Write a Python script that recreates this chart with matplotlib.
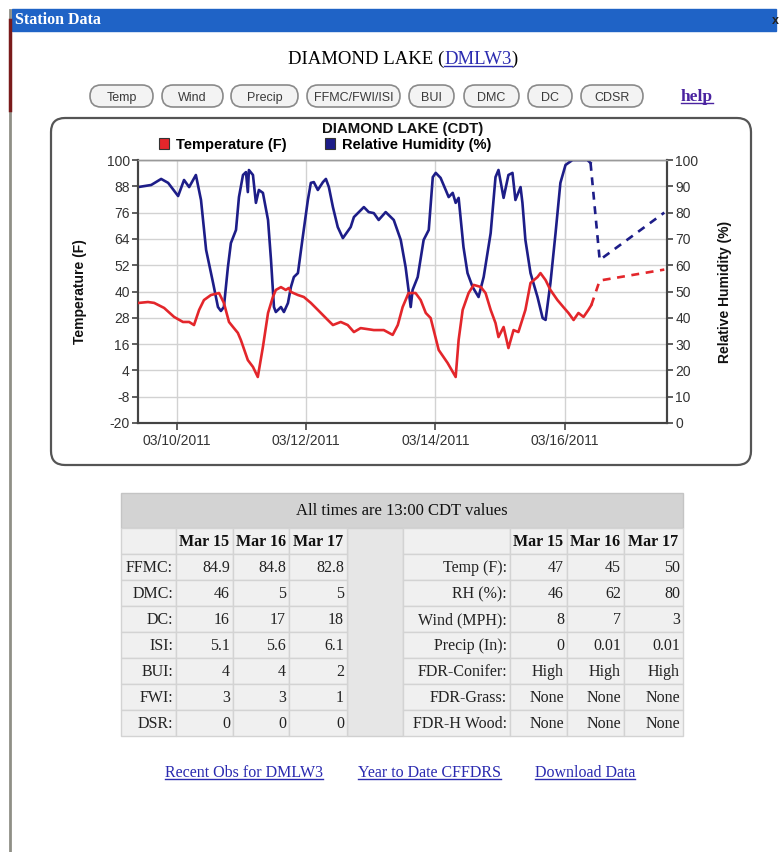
import numpy as np
import pandas as pd
import matplotlib
matplotlib.use("Agg")
import matplotlib.pyplot as plt
import matplotlib.dates as mdates
from matplotlib.patches import FancyBboxPatch, Rectangle, Patch
from matplotlib import font_manager

# ---- data (hours after 03/09/2011 00:00 CDT) ----
rh_hours = [9.5, 14.4, 18.1, 20.7, 24.4, 26.6, 28.5, 31.0, 32.9, 34.8, 37.4, 39.2, 40.3, 41.4,
            42.9, 44.0, 45.9, 47.0, 48.5, 49.6, 50.3, 50.7, 52.2, 53.3, 54.4, 55.9, 57.8, 58.9,
            60.0, 60.7, 62.6, 63.7, 65.2, 66.3, 67.4, 68.9, 70.7, 72.6, 73.7, 74.8, 76.3, 78.2,
            79.3, 80.4, 81.9, 83.7, 85.6, 88.5, 89.7, 93.4, 95.2, 97.1, 98.9, 101.5, 104.5,
            107.1, 108.9, 110.8, 111.5, 113.4, 115.6, 117.5, 119.0, 120.1, 121.9, 123.8, 124.9,
            126.4, 127.5, 128.6, 130.4, 131.9, 133.8, 136.0, 137.9, 140.5, 142.3, 143.4, 145.3,
            147.1, 148.6, 149.7, 151.6, 152.3, 153.4, 155.3, 157.9, 159.8, 160.9, 162.7, 164.6,
            166.4, 168.3, 170.9, 176.4, 177.6]
rh_values = [89.7, 90.5, 92.8, 91.3, 86.3, 92.4, 89.7, 94.3, 84.8, 65.8, 53.2, 44.1, 42.6, 44.1,
             59.3, 68.4, 73.4, 85.9, 94.3, 95.4, 87.8, 96.2, 94.3, 83.7, 88.6, 87.5, 77.2, 62.0,
             44.1, 42.2, 44.1, 42.2, 45.6, 51.7, 55.5, 57.0, 70.7, 84.8, 91.3, 91.6, 88.6, 91.6,
             92.8, 89.7, 82.1, 74.5, 70.3, 74.5, 78.3, 82.1, 80.2, 79.8, 77.2, 80.2, 77.2,
             69.6, 59.3, 44.1, 50.6, 55.5, 69.6, 73.4, 93.5, 95.1, 93.2, 88.6, 85.9,
             87.5, 83.7, 85.6, 66.9, 57.0, 51.7, 47.9, 55.5, 72.2, 93.5, 96.2, 85.6,
             94.3, 95.1, 84.8, 89.7, 83.7, 69.6, 57.0, 47.9, 39.9, 39.2, 53.2, 72.2,
             91.3, 98.1, 100, 100, 98.9]
temp_hours = [9.9, 13.2, 15.5, 19.2, 22.9, 26.2, 28.5, 30.3, 32.2, 34.0, 36.6, 39.6, 41.4, 43.3,
              44.8, 46.6, 47.7, 50.3, 52.2, 54.0, 55.9, 57.8, 59.6, 60.7, 62.6, 64.4, 65.5, 66.3,
              68.9, 71.1, 73.7, 76.3, 80.0, 81.9, 84.8, 87.4, 89.7, 92.2, 97.1, 100.8, 104.1,
              106.0, 107.8, 110.0, 112.6, 114.5, 116.4, 118.2, 121.2, 124.5, 127.5, 128.6, 130.1,
              132.3, 134.2, 136.8, 138.6, 140.5, 142.3, 143.4, 145.3, 147.1, 149.0, 150.8, 153.4,
              155.3, 157.9, 159.0, 160.9, 162.7, 165.3, 167.5, 169.4, 171.3, 173.1, 175.0, 176.8,
              177.9]
temp_values = [34.8, 35.2, 34.8, 32.5, 28.4, 26.1, 26.1, 24.7, 31.6, 36.1, 38.4, 39.3, 34.8, 26.1,
               23.8, 21.1, 17.9, 8.7, 5.6, 1.0, 14.7, 30.2, 37.5, 40.7, 42.0, 40.7, 41.6, 39.8,
               38.4, 37.5, 34.8, 31.6, 27.0, 24.7, 26.1, 24.7, 21.5, 23.3, 22.4, 22.4, 20.2,
               24.7, 32.9, 39.3, 39.3, 36.1, 30.2, 27.9, 13.3, 7.4, 1.0, 17.9, 31.6,
               39.3, 43.0, 42.1, 39.3, 31.6, 25.6, 19.2, 23.8, 14.2, 22.4, 21.5, 31.6,
               43.9, 46.6, 48.4, 45.2, 40.7, 36.1, 32.9, 30.2, 27.0, 30.2, 28.4, 31.6,
               33.8]
forecast_hours = [181, 205]          # 13:00 on Mar 16 and Mar 17
forecast_temp = [45, 50]
forecast_rh = [62, 80]

table_days = ["Mar 15", "Mar 16", "Mar 17"]
index_names = ["FFMC:", "DMC:", "DC:", "ISI:", "BUI:", "FWI:", "DSR:"]
index_values = [["84.9", "84.8", "82.8"], ["46", "5", "5"], ["16", "17", "18"],
                ["5.1", "5.6", "6.1"], ["4", "4", "2"], ["3", "3", "1"], ["0", "0", "0"]]
wx_names = ["Temp (F):", "RH (%):", "Wind (MPH):", "Precip (In):", "FDR-Conifer:",
            "FDR-Grass:", "FDR-H Wood:"]
wx_values = [["47", "45", "50"], ["46", "62", "80"], ["8", "7", "3"], ["0", "0.01", "0.01"],
             ["High", "High", "High"], ["None", "None", "None"], ["None", "None", "None"]]
buttons = ["Temp", "Wind", "Precip", "FFMC/FWI/ISI", "BUI", "DMC", "DC", "CDSR"]
links = ["Recent Obs for DMLW3", "Year to Date CFFDRS", "Download Data"]

# ---- page setup ----
W, H = 780, 852
SERIF = "Liberation Serif"
SANS = "Liberation Sans"
installed = {f.name for f in font_manager.fontManager.ttflist}
NARROW = "Liberation Sans Narrow" if "Liberation Sans Narrow" in installed else SANS
plt.rcParams["font.family"] = [SANS, "DejaVu Sans"]
plt.rcParams["axes.unicode_minus"] = False

fig = plt.figure(figsize=(W / 100, H / 100), dpi=100)
bg = fig.add_axes([0, 0, 1, 1], zorder=0)
bg.set_xlim(0, W)
bg.set_ylim(H, 0)
bg.axis("off")


def fpos(x0, y0, x1, y1):
    return [x0 / W, 1 - y1 / H, (x1 - x0) / W, (y1 - y0) / H]


def underline(t, y, color, lw=1.0):
    bb = t.get_window_extent(fig.canvas.get_renderer())
    bg.plot([bb.x0, bb.x1], [y, y], color=color, lw=lw)


def inline(parts, xc, y, size):
    r = fig.canvas.get_renderer()
    texts = [bg.text(0, y, s, color=c, fontsize=size, family=SERIF, va="baseline")
             for s, c in parts]
    widths = [t.get_window_extent(r).width for t in texts]
    x = xc - sum(widths) / 2
    for t, w in zip(texts, widths):
        t.set_x(x)
        x += w
    return texts


# window chrome
bg.add_patch(Rectangle((12, 9), 764, 22, color="#1f63c6"))
bg.text(15, 20.5, "Station Data", color="white", fontsize=11.5, fontweight="bold",
        family=SERIF, va="center")
bg.text(772, 20.5, "x", color="#222222", fontsize=9, fontweight="bold", va="center")
bg.plot([10, 10], [10, 852], color="#8f8f86", lw=2)
bg.plot([10, 10], [20, 110], color="#7a1a1a", lw=2.5)

# heading
heading = inline([("DIAMOND LAKE (", "black"), ("DMLW3", "#2b2bb0"), (")", "black")], 403, 64, 13.5)
underline(heading[1], 66, "#2b2bb0")

# buttons
btn_left = [90, 162, 231, 307, 409, 464, 528, 581]
btn_right = [153, 223, 298, 400, 454, 519, 572, 643]
for name, x0, x1 in zip(buttons, btn_left, btn_right):
    bg.add_patch(FancyBboxPatch((x0, 85), x1 - x0, 22, boxstyle="round,pad=0,rounding_size=11",
                                fc="#f3f3f3", ec="#8a8a8a", lw=1.2))
    bg.text((x0 + x1) / 2, 96.5, name, ha="center", va="center_baseline", color="#3a3a3a",
            fontsize=11 if NARROW != SANS else 9, family=NARROW)
help_t = bg.text(681, 101, "help", color="#4a23a0", fontsize=12.5, fontweight="bold",
                 family=SERIF, va="baseline")
underline(help_t, 103, "#4a23a0")

# chart frame
bg.add_patch(FancyBboxPatch((51, 118), 700, 347, boxstyle="round,pad=0,rounding_size=14",
                            fc="white", ec="#555555", lw=1.6))
bg.text(403, 129.5, "DIAMOND LAKE (CDT)", ha="center", va="center", fontsize=10.8,
        fontweight="bold", color="#111111")

# ---- chart ----
t0 = pd.Timestamp("2011-03-09")
rh_t = t0 + pd.to_timedelta(rh_hours, unit="h")
temp_t = t0 + pd.to_timedelta(temp_hours, unit="h")
fc_rh_t = t0 + pd.to_timedelta([rh_hours[-1]] + forecast_hours, unit="h")
fc_temp_t = t0 + pd.to_timedelta([temp_hours[-1]] + forecast_hours, unit="h")

RED = "#e3262b"
BLUE = "#1d1d88"

ax = fig.add_axes(fpos(138, 160, 667, 423), zorder=2)
ax.set_xlim(pd.Timestamp("2011-03-09 09:30"), pd.Timestamp("2011-03-17 14:00"))
ax.set_ylim(-20, 100)
ax.set_yticks(np.arange(-20, 101, 12))
ax.xaxis.set_major_locator(mdates.DayLocator(bymonthday=[10, 12, 14, 16]))
ax.xaxis.set_major_formatter(mdates.DateFormatter("%m/%d/%Y"))
ax.grid(True, color="#d2d2d2", lw=1)
ax.set_axisbelow(True)

ax_rh = ax.twinx()
ax_rh.set_zorder(3)
ax_rh.set_ylim(0, 100)
ax_rh.set_yticks(np.arange(0, 101, 10))
ax_rh.plot(rh_t, rh_values, color=BLUE, lw=1.9)
ax_rh.plot(fc_rh_t, [rh_values[-1]] + forecast_rh, color=BLUE, lw=1.9, ls=(0, (3, 2.5)))

ax_t = ax.twinx()
ax_t.set_zorder(4)
ax_t.set_ylim(-20, 100)
ax_t.yaxis.set_visible(False)
for s in ax_t.spines.values():
    s.set_visible(False)
ax_t.plot(temp_t, temp_values, color=RED, lw=1.9)
ax_t.plot(fc_temp_t, [temp_values[-1]] + forecast_temp, color=RED, lw=1.9, ls=(0, (3, 2.5)))

for a in (ax, ax_rh):
    for side in ("left", "right", "bottom"):
        a.spines[side].set_color("#444444")
        a.spines[side].set_linewidth(1.5)
    a.spines["top"].set_color("#9a9a9a")
    a.spines["top"].set_linewidth(1)
    a.tick_params(direction="out", length=4, width=1.2, color="#444444", labelsize=10,
                  labelcolor="#333333", pad=2)
ax.tick_params(axis="x", length=5, pad=3)

ax.set_ylabel("Temperature (F)", fontsize=10, fontweight="bold", color="#111111")
ax.yaxis.set_label_coords((87 - 138) / 529, 0.5)
ax_rh.set_ylabel("Relative Humidity (%)", fontsize=10, fontweight="bold", color="#111111",
                 rotation=90)
ax_rh.yaxis.set_label_coords((718 - 138) / 529, 0.5)

handles = [Patch(fc=RED, ec="#333333", lw=0.8), Patch(fc=BLUE, ec="#333333", lw=0.8)]
fig.legend(handles, ["Temperature (F)", "Relative Humidity (%)"], loc="center",
           bbox_to_anchor=(325 / W, 1 - 144.5 / H), ncol=2, frameon=False,
           prop={"weight": "bold", "size": 10.5}, handlelength=0.7, handleheight=0.7,
           handletextpad=0.5, columnspacing=2.6, borderpad=0)

# ---- table ----
head_top, head_bot, tbl_bot = 493, 528, 736
row_h = (tbl_bot - head_bot) / 8
left_cols = [121, 176, 233, 289, 347]
right_cols = [403, 510, 567, 624, 683]
bg.add_patch(Rectangle((121, head_top), 562, head_bot - head_top, fc="#d3d3d3", ec="#c4c4c4", lw=1))
bg.text(402, 511, "All times are 13:00 CDT values", ha="center", va="center", fontsize=12,
        family=SERIF, color="#111111")
bg.add_patch(Rectangle((347, head_bot), 56, tbl_bot - head_bot, fc="#e6e6e6", ec="#d0d0d0", lw=1))


def draw_block(cols, names, values):
    rows = [[""] + table_days] + [[n] + v for n, v in zip(names, values)]
    for r, row in enumerate(rows):
        y0 = head_bot + r * row_h
        for c, s in enumerate(row):
            x0, x1 = cols[c], cols[c + 1]
            bg.add_patch(Rectangle((x0, y0), x1 - x0, row_h, fc="#f0f0f0", ec="#d3d3d3", lw=1))
            if r == 0:
                bg.text((x0 + x1) / 2, y0 + row_h / 2 + 1, s, ha="center", va="center",
                        fontsize=11.5, fontweight="bold", family=SERIF, color="#111111")
            else:
                bg.text(x1 - 3, y0 + row_h / 2 + 1, s, ha="right", va="center",
                        fontsize=11.5, family=SERIF, color="#222222")


draw_block(left_cols, index_names, index_values)
draw_block(right_cols, wx_names, wx_values)

# ---- links ----
for name, x in zip(links, [165, 358, 535]):
    t = bg.text(x, 777, name, color="#2a2ab0", fontsize=11.5, family=SERIF, va="baseline")
    underline(t, 779, "#2a2ab0")

fig.savefig("out.png", dpi=100)
